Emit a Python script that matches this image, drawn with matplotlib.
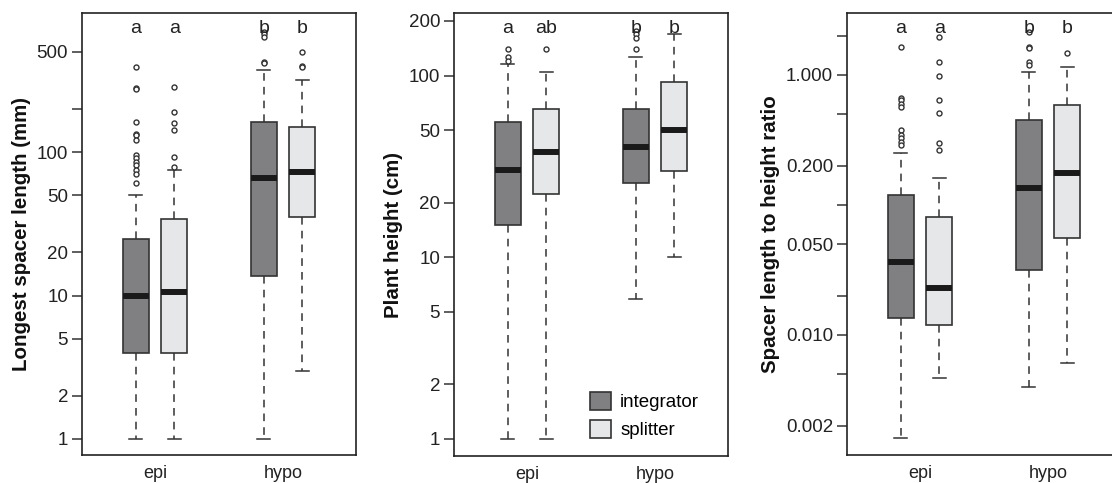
import matplotlib
matplotlib.use('Agg')
import matplotlib.pyplot as plt
from matplotlib.patches import Patch

plt.rcParams['font.family'] = ['Liberation Sans', 'DejaVu Sans']

groups = ['epi', 'hypo']
types = ['integrator', 'splitter']
fill_colors = ['#808083', '#e6e7e8']
positions = [0.85, 1.15, 1.85, 2.15]

# order of boxes: epi-integrator, epi-splitter, hypo-integrator, hypo-splitter

# panel 1: longest spacer length (mm)
spacer_low = [1, 1, 1, 3.0]
spacer_q1 = [4, 4, 13.8, 35.3]
spacer_med = [10, 10.6, 65.8, 73]
spacer_q3 = [25, 34.4, 162, 150]
spacer_high = [50, 75, 374, 319]
spacer_out = [
    [395, 282, 278, 163, 135, 131, 122, 96, 91, 85, 81, 75, 71, 61],
    [285, 192, 159, 143, 93, 79],
    [692, 670, 640, 428, 422],
    [502, 401, 393],
]
spacer_letters = ['a', 'a', 'b', 'b']

# panel 2: plant height (cm)
height_low = [1, 1, 5.9, 10]
height_q1 = [15.1, 22.4, 25.5, 30]
height_med = [30.1, 38, 40.5, 50]
height_q3 = [55.6, 65.8, 65.8, 91.9]
height_high = [116, 104, 126, 169]
height_out = [
    [140, 126, 121],
    [140],
    [176, 169, 162, 140],
    [],
]
height_letters = ['a', 'ab', 'b', 'b']

# panel 3: spacer length to height ratio
ratio_low = [0.0016, 0.00464, 0.00396, 0.00606]
ratio_q1 = [0.0134, 0.0119, 0.0313, 0.0554]
ratio_med = [0.0366, 0.0229, 0.134, 0.175]
ratio_q3 = [0.119, 0.0813, 0.45, 0.585]
ratio_high = [0.25, 0.16, 1.06, 1.16]
ratio_out = [
    [1.65, 0.66, 0.64, 0.6, 0.57, 0.377, 0.346, 0.33, 0.307, 0.29],
    [1.97, 1.27, 0.98, 0.64, 0.51, 0.298, 0.265],
    [2.15, 1.65, 1.6, 1.27, 1.19],
    [1.47],
]
ratio_letters = ['a', 'a', 'b', 'b']


def draw_panel(ax, low, q1, med, q3, high, out, letters, ylabel, ylim, yticks, yticklabels):
    stats = []
    for i in range(4):
        stats.append({'whislo': low[i], 'q1': q1[i], 'med': med[i], 'q3': q3[i],
                      'whishi': high[i], 'fliers': out[i]})
    bp = ax.bxp(stats, positions=positions, widths=0.2, capwidths=0.1,
                patch_artist=True, showfliers=True,
                boxprops=dict(edgecolor='#333333', linewidth=1.2),
                whiskerprops=dict(color='#333333', linewidth=1.1, linestyle=(0, (5, 4))),
                capprops=dict(color='#333333', linewidth=1.1),
                medianprops=dict(color='#1a1a1a', linewidth=4.3, solid_capstyle='butt'),
                flierprops=dict(marker='o', markersize=3.6, markerfacecolor='white',
                                markeredgecolor='#333333', markeredgewidth=1.0))
    for i, box in enumerate(bp['boxes']):
        box.set_facecolor(fill_colors[i % 2])
    ax.set_yscale('log')
    ax.set_ylim(ylim)
    ax.set_xlim(0.43, 2.57)
    ax.set_yticks(yticks)
    ax.set_yticklabels(yticklabels)
    ax.minorticks_off()
    ax.set_xticks([1, 2])
    ax.set_xticklabels(groups)
    ax.tick_params(axis='x', length=0, pad=7, labelsize=13, colors='#222222')
    ax.tick_params(axis='y', length=7, width=1.1, pad=3, labelsize=13.5,
                   colors='#333333', labelcolor='#222222')
    for s in ax.spines.values():
        s.set_color('#222222')
        s.set_linewidth(1.2)
    ax.set_ylabel(ylabel, fontsize=14.8, fontweight='bold', labelpad=4, color='#111111')
    for p, t in zip(positions, letters):
        ax.text(p, 0.966, t, transform=ax.get_xaxis_transform(), ha='center',
                va='center', fontsize=14, color='#222222')


def main():
    fig = plt.figure(figsize=(11.12, 4.83), dpi=100)
    ax1 = fig.add_axes([82 / 1112, 28 / 483, 274 / 1112, 442 / 483])
    ax2 = fig.add_axes([454 / 1112, 27 / 483, 274 / 1112, 443 / 483])
    ax3 = fig.add_axes([847 / 1112, 28 / 483, 274 / 1112, 442 / 483])

    draw_panel(ax1, spacer_low, spacer_q1, spacer_med, spacer_q3, spacer_high,
               spacer_out, spacer_letters, 'Longest spacer length (mm)', (0.773, 935),
               [1, 2, 5, 10, 20, 50, 100, 200, 500],
               ['1', '2', '5', '10', '20', '50', '100', '', '500'])
    draw_panel(ax2, height_low, height_q1, height_med, height_q3, height_high,
               height_out, height_letters, 'Plant height (cm)', (0.806, 221),
               [1, 2, 5, 10, 20, 50, 100, 200],
               ['1', '2', '5', '10', '20', '50', '100', '200'])
    draw_panel(ax3, ratio_low, ratio_q1, ratio_med, ratio_q3, ratio_high,
               ratio_out, ratio_letters, 'Spacer length to height ratio', (0.00119, 3.0),
               [0.002, 0.005, 0.01, 0.02, 0.05, 0.1, 0.2, 0.5, 1, 2],
               ['0.002', '', '0.010', '', '0.050', '', '0.200', '', '1.000', ''])

    handles = [Patch(facecolor=fill_colors[i], edgecolor='#333333', linewidth=1.2,
                     label=types[i]) for i in range(2)]
    ax2.legend(handles=handles, loc='lower left', bbox_to_anchor=(0.435, 0.0),
               frameon=False, fontsize=13.5, handlelength=1.1, handleheight=1.1,
               handletextpad=0.5, labelspacing=0.45)

    fig.savefig('out.png', dpi=100)


if __name__ == "__main__":
    main()
